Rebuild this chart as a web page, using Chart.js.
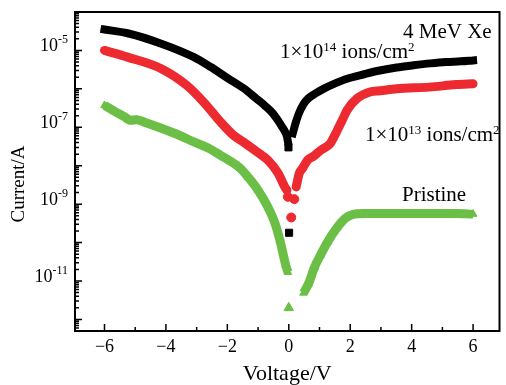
<!DOCTYPE html>
<html>
<head>
<meta charset="utf-8">
<title>I-V curves, 4 MeV Xe</title>
<script src="https://cdn.jsdelivr.net/npm/chart.js@4.4.0/dist/chart.umd.min.js"></script>
<style>
  body { margin: 0; background: #fff; }
  canvas { display: block; }
</style>
</head>
<body>
<canvas id="iv-chart" width="506" height="385"></canvas>
<script>
// values: voltage in V, current in A
const blackLeftV = [-6.0, -5.25, -4.15, -3.09, -2.54, -2.03, -1.48, -1.32, -1.06, -0.77, -0.52, -0.35, -0.23, -0.13, -0.06, -0.03];
const blackLeftI = [3.5e-5, 2.8e-5, 1.5e-5, 6.7e-6, 3.7e-6, 2.0e-6, 1.05e-6, 8.4e-7, 5.6e-7, 3.6e-7, 2.3e-7, 1.5e-7, 1.06e-7, 7.9e-8, 5.8e-8, 4.3e-8];
const blackZeroV = [-0.01, 0.01];
const blackZeroI = [3.0e-8, 1.8e-10];
const blackRightV = [0.13, 0.23, 0.32, 0.48, 0.64, 0.87, 1.16, 1.51, 1.90, 2.45, 2.96, 3.51, 4.06, 4.61, 5.12, 5.60, 6.0];
const blackRightI = [7.0e-8, 1.35e-7, 2.2e-7, 4.0e-7, 5.7e-7, 7.6e-7, 1.03e-6, 1.39e-6, 1.84e-6, 2.4e-6, 3.0e-6, 3.6e-6, 4.1e-6, 4.6e-6, 5.0e-6, 5.2e-6, 5.5e-6];

const redLeftV = [-6.0, -5.25, -4.15, -3.32, -2.77, -2.22, -1.80, -1.48, -1.10, -0.68, -0.35, -0.14, -0.06];
const redLeftI = [1.0e-5, 6.7e-6, 3.35e-6, 1.23e-6, 4.5e-7, 1.37e-7, 6.2e-8, 4.15e-8, 2.5e-8, 1.39e-8, 6.4e-9, 2.9e-9, 2.3e-9];
const redZeroV = [-0.03, 0.08, 0.18];
const redZeroI = [1.55e-9, 4.5e-10, 1.35e-9];
const redRightV = [0.24, 0.34, 0.45, 0.61, 0.81, 1.03, 1.35, 1.58, 1.74, 1.90, 2.22, 2.64, 2.97, 3.51, 4.57, 5.44, 6.0];
const redRightI = [2.8e-9, 6.3e-9, 8.6e-9, 1.39e-8, 1.77e-8, 2.5e-8, 3.8e-8, 8.4e-8, 1.52e-7, 2.8e-7, 5.6e-7, 8.3e-7, 8.9e-7, 1.01e-6, 1.11e-6, 1.29e-6, 1.36e-6];

const greenLeftV = [-6.0, -5.67, -5.38, -5.15, -4.96, -4.70, -4.15, -3.57, -3.09, -2.61, -2.22, -1.90, -1.58, -1.32, -1.00, -0.68, -0.45, -0.29, -0.19, -0.10, -0.03];
const greenLeftI = [3.7e-7, 2.6e-7, 1.95e-7, 1.52e-7, 1.58e-7, 1.35e-7, 9.4e-8, 6.2e-8, 4.15e-8, 2.85e-8, 1.87e-8, 1.31e-8, 8.6e-9, 5.0e-9, 2.3e-9, 8.4e-10, 3.2e-10, 1.16e-10, 5.3e-11, 2.6e-11, 1.7e-11];
const greenZeroV = [0.0];
const greenZeroI = [2.0e-12];
const greenRightV = [0.48, 0.64, 0.84, 1.03, 1.26, 1.58, 1.84, 2.06, 2.45, 3.51, 4.57, 5.44, 6.0];
const greenRightI = [4.9e-12, 8.4e-12, 2.3e-11, 4.7e-11, 1.03e-10, 2.5e-10, 4.3e-10, 5.3e-10, 5.7e-10, 5.7e-10, 5.7e-10, 5.7e-10, 5.5e-10];

const xMajor = [-6, -4, -2, 0, 2, 4, 6];
const xMinor = [-5, -3, -1, 1, 3, 5];
const yLabelExp = [-5, -7, -9, -11];

const serif = "'Liberation Serif', 'DejaVu Serif', serif";
const black = '#000000';
const red = '#ec2a30';
const green = '#6cbf46';

function branch(vs, is, color, style, radius, width, line, cap) {
    return {
        data: vs.map((v, k) => ({x: v, y: is[k]})),
        showLine: line,
        borderColor: color,
        backgroundColor: color,
        borderWidth: width,
        borderJoinStyle: 'round',
        borderCapStyle: cap || 'butt',
        cubicInterpolationMode: 'monotone',
        pointStyle: style,
        pointRadius: radius,
        pointBorderWidth: 1,
        pointBorderColor: color,
        pointBackgroundColor: color
    };
}

// text with superscripts, drawn piece by piece
function richText(ctx, parts, x, y, size) {
    parts.forEach(p => {
        ctx.font = (p.sup ? Math.round(size * 0.62) : size) + 'px ' + serif;
        ctx.fillText(p.t, x, p.sup ? y - size * 0.32 : y);
        x += ctx.measureText(p.t).width;
    });
}

const decor = {
    id: 'decor',
    afterDraw(chart) {
        const {ctx, chartArea: a, scales: {x, y}} = chart;
        ctx.save();
        ctx.strokeStyle = '#000';
        ctx.fillStyle = '#000';

        // inward ticks
        ctx.lineWidth = 1.5;
        ctx.beginPath();
        xMajor.forEach(v => { const p = x.getPixelForValue(v); ctx.moveTo(p, a.bottom); ctx.lineTo(p, a.bottom - 7); });
        xMinor.forEach(v => { const p = x.getPixelForValue(v); ctx.moveTo(p, a.bottom); ctx.lineTo(p, a.bottom - 4); });
        for (let e = -13; e <= -4; e++) {
            for (let m = 1; m <= 9; m++) {
                const val = m * Math.pow(10, e);
                if (val < y.min || val > y.max) continue;
                const p = y.getPixelForValue(val);
                ctx.moveTo(a.left, p);
                ctx.lineTo(a.left + (m === 1 ? 7 : 4), p);
            }
        }
        ctx.stroke();

        // frame
        ctx.lineWidth = 2;
        ctx.strokeRect(a.left, a.top, a.right - a.left, a.bottom - a.top);

        // y tick labels 10^n
        ctx.textAlign = 'left';
        ctx.textBaseline = 'alphabetic';
        yLabelExp.forEach(e => {
            const p = y.getPixelForValue(Math.pow(10, e));
            const sup = '-' + Math.abs(e);
            ctx.font = '12px ' + serif;
            const sw = ctx.measureText(sup).width;
            ctx.font = '18px ' + serif;
            const bw = ctx.measureText('10').width;
            ctx.fillText('10', 68 - sw - bw, p + 1);
            ctx.font = '12px ' + serif;
            ctx.fillText(sup, 68 - sw, p - 7);
        });

        // y title
        ctx.save();
        ctx.translate(19, 184);
        ctx.rotate(-Math.PI / 2);
        ctx.textAlign = 'center';
        ctx.textBaseline = 'middle';
        ctx.font = '19px ' + serif;
        ctx.fillText('Current/A', 0, 0);
        ctx.restore();

        // annotations
        richText(ctx, [{t: '4 MeV Xe'}], 403, 38, 21);
        richText(ctx, [{t: '1×10'}, {t: '14', sup: true}, {t: ' ions/cm'}, {t: '2', sup: true}], 280, 58, 21);
        richText(ctx, [{t: '1×10'}, {t: '13', sup: true}, {t: ' ions/cm'}, {t: '2', sup: true}], 365, 141, 21);
        richText(ctx, [{t: 'Pristine'}], 402, 201, 21);
        ctx.restore();
    }
};

const ctx = document.getElementById('iv-chart');
const chart = new Chart(ctx, {
    type: 'line',
    data: {
        datasets: [
            branch(blackLeftV, blackLeftI, black, 'rect', 0, 8, true, 'square'),
            branch(blackZeroV, blackZeroI, black, 'rect', 5, 8, false),
            branch(blackRightV, blackRightI, black, 'rect', 0, 8, true, 'square'),
            branch(redLeftV, redLeftI, red, 'circle', 0, 9, true, 'round'),
            branch(redZeroV, redZeroI, red, 'circle', 4.5, 9, false),
            branch(redRightV, redRightI, red, 'circle', 0, 9, true, 'round'),
            branch(greenLeftV, greenLeftI, green, 'triangle', 4.5, 9, true),
            branch(greenZeroV, greenZeroI, green, 'triangle', 5.5, 9, false),
            branch(greenRightV, greenRightI, green, 'triangle', 4.5, 9, true)
        ]
    },
    options: {
        responsive: false,
        animation: false,
        layout: { padding: { top: 12, right: 2, left: 0, bottom: 0 } },
        plugins: {
            legend: { display: false },
            tooltip: { enabled: false }
        },
        scales: {
            x: {
                type: 'linear',
                min: -6.96,
                max: 6.86,
                afterBuildTicks: scale => { scale.ticks = xMajor.map(v => ({value: v})); },
                afterFit: scale => { scale.height = 54; },
                grid: { display: false, drawTicks: false },
                border: { display: false },
                ticks: {
                    padding: 5,
                    color: '#000',
                    font: { family: serif, size: 18 },
                    callback: v => v < 0 ? '\u2212' + Math.abs(v) : String(v)
                },
                title: {
                    display: true,
                    text: 'Voltage/V',
                    color: '#000',
                    padding: 0,
                    font: { family: serif, size: 22, lineHeight: 1 }
                }
            },
            y: {
                type: 'logarithmic',
                min: 5e-13,
                max: 1e-4,
                afterFit: scale => { scale.width = 75; },
                grid: { display: false, drawTicks: false },
                border: { display: false },
                ticks: { display: false }
            }
        }
    },
    plugins: [decor]
});
</script>
</body>
</html>
